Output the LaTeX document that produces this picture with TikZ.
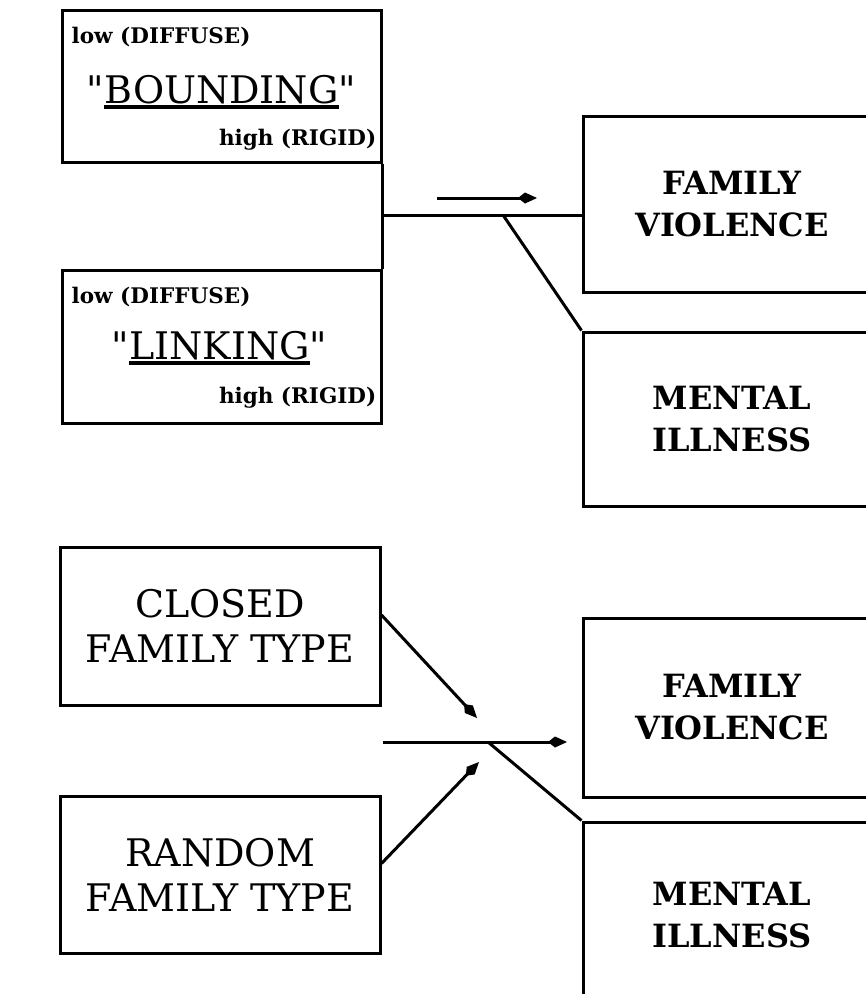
\documentclass[tikz,border=0pt]{standalone}
\usepackage{fontspec}
\setmainfont{DejaVu Serif}
\usetikzlibrary{arrows.meta,positioning,calc}
\newcommand{\heavyline}[1]{\setbox0=\hbox{#1}\rlap{\raisebox{-5pt}{\rule{\wd0}{3.5pt}}}\box0}

\begin{document}
\begin{tikzpicture}[x=1pt,y=-1pt,>={Kite[length=19pt,width=11pt,inset=7pt]}]
\tikzstyle{box}=[draw,line width=3pt,inner sep=0pt,align=center]
\tikzstyle{lab}=[inner sep=0pt]
\tikzstyle{tiny}=[font=\fontsize{21.5}{25}\selectfont\bfseries]
\tikzstyle{word}=[font=\fontsize{38}{44}\selectfont]
\tikzstyle{bold}=[font=\fontsize{32}{42}\selectfont\bfseries]
\tikzstyle{plain}=[font=\fontsize{38}{45}\selectfont]
\tikzstyle{wire}=[line width=3pt]
\path[use as bounding box,clip] (0,0) rectangle (866,994);
% upper diagram
\node[box,minimum width=319pt,minimum height=152pt] (bnd) at (221.5,86) {};
\node[box,minimum width=319pt,minimum height=153pt] (lnk) [below=105pt of bnd] {};
\node[box,bold,minimum width=298pt,minimum height=176pt] (fv) at (732,204) {FAMILY\\VIOLENCE};
\node[box,bold,minimum width=298pt,minimum height=174pt] (mi) [below=37pt of fv] {MENTAL\\ILLNESS};
\node[lab,tiny,anchor=base west] (bndlo) at ($(bnd.north west)+(11,35)$) {low (DIFFUSE)};
\node[lab,word,anchor=base] (bndw) at ($(bnd.north)+(0,95)$) {\textquotedbl\heavyline{BOUNDING}\textquotedbl};
\node[lab,tiny,anchor=base east] (bndhi) at ($(bnd.north east)+(-6,137)$) {high (RIGID)};
\node[lab,tiny,anchor=base west] (lnklo) at ($(lnk.north west)+(11,35)$) {low (DIFFUSE)};
\node[lab,word,anchor=base] (lnkw) at ($(lnk.north)+(-2,91)$) {\textquotedbl\heavyline{LINKING}\textquotedbl};
\node[lab,tiny,anchor=base east] (lnkhi) at ($(lnk.north east)+(-6,135)$) {high (RIGID)};
\coordinate (j) at (381,215);
\coordinate (k) at (503,215);
\coordinate (a1) at (437,198);
\coordinate (a2) at (537,198);
\draw[wire] (bnd.south east) -- (lnk.north east);
\draw[wire] (j) -- (j -| fv.west);
\draw[wire] (k) -- (mi.north west);
\draw[wire,->] (a1) -- (a2);
% lower diagram
\node[box,plain,minimum width=320pt,minimum height=158pt] (cl) at (220,626) {CLOSED\\FAMILY TYPE};
\node[box,plain,minimum width=320pt,minimum height=157pt] (rd) [below=88pt of cl] {RANDOM\\FAMILY TYPE};
\node[box,bold,minimum width=298pt,minimum height=179pt] (fv2) at (732,707.5) {FAMILY\\VIOLENCE};
\node[box,bold,minimum width=298pt,minimum height=186pt] (mi2) [below=22pt of fv2] {MENTAL\\ILLNESS};
\coordinate (p) at (477,718);
\coordinate (q) at (479,762);
\coordinate (h1) at (383,742);
\coordinate (h2) at (567,742);
\coordinate (m) at (488,742);
\draw[wire,->] ($(cl.east)+(0,-11)$) -- (p);
\draw[wire,->] ($(rd.east)+(0,-11)$) -- (q);
\draw[wire,->] (h1) -- (h2);
\draw[wire] (m) -- (mi2.north west);
\end{tikzpicture}
\end{document}
